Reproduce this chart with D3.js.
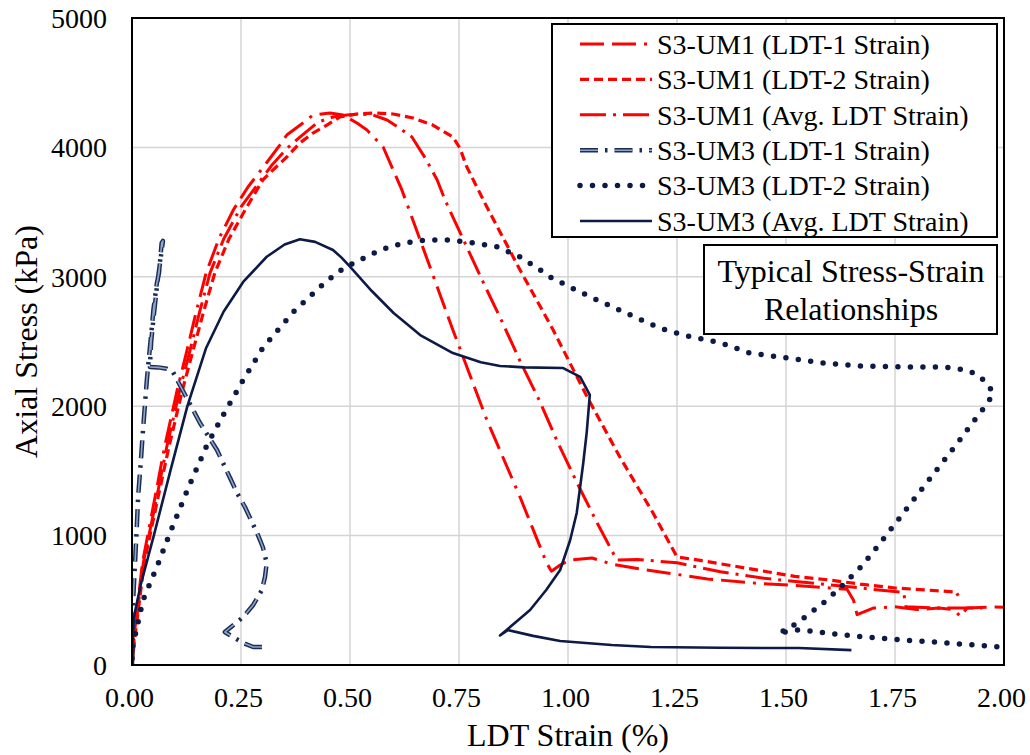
<!DOCTYPE html>
<html><head><meta charset="utf-8">
<script src="https://cdn.jsdelivr.net/npm/d3@7"></script>
<style>body{margin:0;background:#fff} svg{display:block}</style>
</head><body><svg id="c" width="1030" height="755"></svg>
<script>
// ---- Data: [LDT strain (%), axial stress (kPa)] ----
const um1Ldt1 = [[0,0],[0.004,200],[0.024,790],[0.053,1300],[0.075,1690],[0.104,2130],[0.126,2430],[0.148,2740],[0.17,3030],[0.2,3300],[0.233,3520],[0.266,3694],[0.31,3887],[0.339,4018],[0.355,4096],[0.392,4188],[0.415,4250],[0.454,4266],[0.484,4250],[0.516,4188],[0.539,4134],[0.576,4003],[0.619,3671],[0.661,3284],[0.736,2589],[0.814,1893],[0.89,1298],[0.951,788],[0.962,725],[0.982,773],[1.005,811],[1.055,827],[1.1,780],[1.17,740],[1.25,700],[1.32,665],[1.44,630],[1.52,615],[1.6,595],[1.64,585],[1.655,500],[1.663,390],[1.7,440],[1.75,450],[1.8,428],[1.85,440],[1.885,428],[1.9,375],[1.915,440],[1.97,448],[2.02,445]];
const um1Ldt2 = [[0,0],[0.006,200],[0.028,790],[0.06,1300],[0.085,1690],[0.116,2130],[0.14,2430],[0.165,2740],[0.19,3030],[0.222,3290],[0.26,3520],[0.3,3748],[0.323,3825],[0.355,3926],[0.385,4034],[0.415,4111],[0.447,4173],[0.477,4235],[0.516,4258],[0.553,4266],[0.599,4258],[0.645,4227],[0.69,4173],[0.736,4080],[0.752,3995],[0.768,3848],[0.814,3539],[0.89,3053],[0.966,2589],[1.044,2071],[1.119,1607],[1.195,1175],[1.25,835],[1.3,810],[1.38,765],[1.46,719],[1.52,685],[1.6,657],[1.67,625],[1.75,595],[1.82,580],[1.89,564],[1.895,535]];
const um1Avg = [[0,0],[0.005,200],[0.026,790],[0.057,1300],[0.08,1690],[0.11,2130],[0.133,2430],[0.156,2740],[0.179,3030],[0.21,3290],[0.25,3540],[0.285,3700],[0.32,3860],[0.355,3990],[0.385,4080],[0.427,4196],[0.461,4235],[0.493,4250],[0.523,4258],[0.553,4250],[0.585,4212],[0.61,4157],[0.642,4080],[0.674,3910],[0.7,3748],[0.718,3593],[0.803,2975],[0.849,2651],[0.89,2349],[0.936,2032],[0.977,1716],[1.021,1406],[1.067,1097],[1.112,811],[1.16,815],[1.25,790],[1.35,720],[1.45,670],[1.6,620],[1.77,560],[1.775,450],[1.85,440],[1.95,440]];
const um3Ldt1 = [[0,0],[0.002,300],[0.003,525],[0.005,657],[0.011,1066],[0.014,1300],[0.02,1560],[0.024,1760],[0.03,2025],[0.034,2200],[0.041,2450],[0.045,2589],[0.049,2743],[0.057,2950],[0.062,3030],[0.068,3261],[0.071,3277],[0.066,3150],[0.058,2950],[0.05,2700],[0.044,2500],[0.041,2303],[0.06,2300],[0.08,2290],[0.094,2264],[0.128,2048],[0.156,1870],[0.195,1661],[0.225,1445],[0.241,1329],[0.259,1221],[0.287,1020],[0.3,912],[0.309,788],[0.305,680],[0.298,580],[0.278,464],[0.255,371],[0.213,255],[0.225,230],[0.232,216],[0.255,170],[0.278,139],[0.307,139]];
const um3Ldt2 = [[0,50],[0.002,150],[0.025,500],[0.057,757],[0.087,1020],[0.129,1368],[0.172,1700],[0.213,1955],[0.255,2202],[0.3,2450],[0.37,2728],[0.431,2921],[0.472,3037],[0.5,3091],[0.569,3207],[0.622,3261],[0.676,3284],[0.729,3284],[0.787,3261],[0.84,3230],[0.89,3153],[0.936,3053],[0.959,2998],[1.009,2913],[1.057,2836],[1.108,2759],[1.158,2682],[1.211,2604],[1.264,2550],[1.35,2490],[1.417,2411],[1.505,2372],[1.585,2334],[1.67,2311],[1.777,2303],[1.86,2303],[1.915,2280],[1.94,2241],[1.961,2179],[1.975,2102],[1.963,2025],[1.945,1947],[1.929,1878],[1.895,1723],[1.8,1309],[1.709,912],[1.674,765],[1.635,634],[1.594,502],[1.55,386],[1.505,278],[1.482,247],[1.525,270],[1.555,263],[1.631,232],[1.708,209],[1.768,193],[1.85,175],[1.99,140]];
const um3Avg = [[0,60],[0.003,350],[0.02,620],[0.05,1000],[0.088,1500],[0.127,2000],[0.17,2450],[0.21,2730],[0.255,2960],[0.309,3155],[0.35,3250],[0.385,3290],[0.42,3270],[0.461,3207],[0.48,3150],[0.5,3078],[0.55,2890],[0.6,2720],[0.661,2550],[0.736,2411],[0.8,2340],[0.844,2311],[0.9,2300],[0.989,2295],[1.028,2226],[1.05,2087],[1.043,1800],[1.035,1561],[1.02,1175],[1.005,966],[0.982,734],[0.95,580],[0.913,425],[0.88,330],[0.844,228],[0.862,270],[0.92,225],[0.982,185],[1.1,155],[1.19,139],[1.35,133],[1.53,131],[1.65,115]];

const seriesNames = ["S3-UM1 (LDT-1 Strain)","S3-UM1 (LDT-2 Strain)","S3-UM1 (Avg. LDT Strain)","S3-UM3 (LDT-1 Strain)","S3-UM3 (LDT-2 Strain)","S3-UM3 (Avg. LDT Strain)"];
const xTicks = [0,0.25,0.5,0.75,1.0,1.25,1.5,1.75,2.0];
const yTicks = [0,1000,2000,3000,4000,5000];
const xTitle = "LDT Strain (%)";
const yTitle = "Axial Stress (kPa)";
const noteLines = ["Typical Stress-Strain","Relationships"];

// ---- Drawing ----
const RED = "#ff0000", NAVY = "#0c1a45";
const FONT = "'Liberation Serif','Times New Roman',serif";
const svg = d3.select("#c");
const L = 132, T = 18, R = 1004, B = 665;
const x = d3.scaleLinear().domain([0,2]).range([L,R]);
const y = d3.scaleLinear().domain([0,5000]).range([B,T]);

svg.append("defs").append("clipPath").attr("id","clip")
  .append("rect").attr("x",L).attr("y",T).attr("width",R-L).attr("height",B-T);

// grid
const g = svg.append("g");
g.selectAll(".gx").data(xTicks.slice(1,-1)).enter().append("line")
  .attr("x1",d=>x(d)).attr("x2",d=>x(d)).attr("y1",T).attr("y2",B)
  .attr("stroke","#d4d4d4").attr("stroke-width",1.5);
g.selectAll(".gy").data(yTicks.slice(1,-1)).enter().append("line")
  .attr("x1",L).attr("x2",R).attr("y1",d=>y(d)).attr("y2",d=>y(d))
  .attr("stroke","#d4d4d4").attr("stroke-width",1.5);

// axes
const xAxis = d3.axisBottom(x).tickValues(xTicks).tickFormat(d3.format(".2f")).tickSize(0).tickPadding(24);
const yAxis = d3.axisLeft(y).tickValues(yTicks).tickFormat(d=>String(d)).tickSize(0).tickPadding(25);
const ax = svg.append("g").attr("transform",`translate(0,${B})`).call(xAxis);
const ay = svg.append("g").attr("transform",`translate(${L},0)`).call(yAxis);
[ax,ay].forEach(a=>{a.select(".domain").remove();
  a.selectAll("text").attr("font-family",FONT).attr("font-size",28).attr("fill","#000");});
ax.selectAll("text").attr("dx",-3).attr("dy","0.66em");
ay.selectAll("text").attr("dy","0.33em");

const line = d3.line().x(d=>x(d[0])).y(d=>y(d[1]));
const plot = svg.append("g").attr("clip-path","url(#clip)");

const styles = [
  {data:um1Ldt1, layers:[{c:RED,w:3,dash:"24,8,24,8,3,8",cap:"butt"}]},
  {data:um1Ldt2, layers:[{c:RED,w:3.2,dash:"9,5",cap:"butt"}]},
  {data:um1Avg,  layers:[{c:RED,w:3,dash:"26,7,3,7",cap:"butt"}]},
  {data:um3Ldt1, layers:[{c:"#1c2d55",w:4.5,dash:"18,7,2.5,7",cap:"butt"},{c:"#8ea5cc",w:1.6,dash:"18,16.5",cap:"butt"}]},
  {data:um3Ldt2, layers:[{c:NAVY,w:5.5,dash:"0,12.5",cap:"round"}]},
  {data:um3Avg,  layers:[{c:NAVY,w:2.6,dash:null,cap:"butt"}]}
];
styles.forEach(s=>{
  s.layers.forEach(l=>{
    plot.append("path").datum(s.data).attr("d",line)
      .attr("fill","none").attr("stroke",l.c).attr("stroke-width",l.w)
      .attr("stroke-dasharray",l.dash).attr("stroke-linecap",l.cap).attr("stroke-linejoin","round");
  });
});

// plot border
svg.append("rect").attr("x",L).attr("y",T).attr("width",R-L).attr("height",B-T)
  .attr("fill","none").attr("stroke","#000").attr("stroke-width",2);

// axis titles
svg.append("text").attr("x",(L+R)/2).attr("y",746).attr("text-anchor","middle")
  .attr("font-family",FONT).attr("font-size",32).text(xTitle);
svg.append("text").attr("transform",`translate(37,${(T+B)/2}) rotate(-90)`).attr("text-anchor","middle")
  .attr("font-family",FONT).attr("font-size",32).text(yTitle);

// legend
const lg = svg.append("g");
lg.append("rect").attr("x",552).attr("y",24).attr("width",445).attr("height",213)
  .attr("fill","#fff").attr("stroke","#000").attr("stroke-width",2);
const ly0 = 44, ldy = 35.4;
styles.forEach((s,i)=>{
  const yy = ly0 + i*ldy;
  s.layers.forEach(l=>{
    lg.append("line").attr("x1",580).attr("x2",652).attr("y1",yy).attr("y2",yy)
      .attr("stroke",l.c).attr("stroke-width",l.w).attr("stroke-dasharray",l.dash)
      .attr("stroke-linecap",l.cap);
  });
  lg.append("text").attr("x",657).attr("y",yy).attr("dy","0.35em")
    .attr("font-family",FONT).attr("font-size",28).text(seriesNames[i]);
});

// note box
const nb = svg.append("g");
nb.append("rect").attr("x",704).attr("y",245).attr("width",293).attr("height",89)
  .attr("fill","#fff").attr("stroke","#000").attr("stroke-width",2);
noteLines.forEach((t,i)=>{
  nb.append("text").attr("x",851).attr("y",271+i*38).attr("dy","0.35em").attr("text-anchor","middle")
    .attr("font-family",FONT).attr("font-size",32).text(t);
});
</script></body></html>
